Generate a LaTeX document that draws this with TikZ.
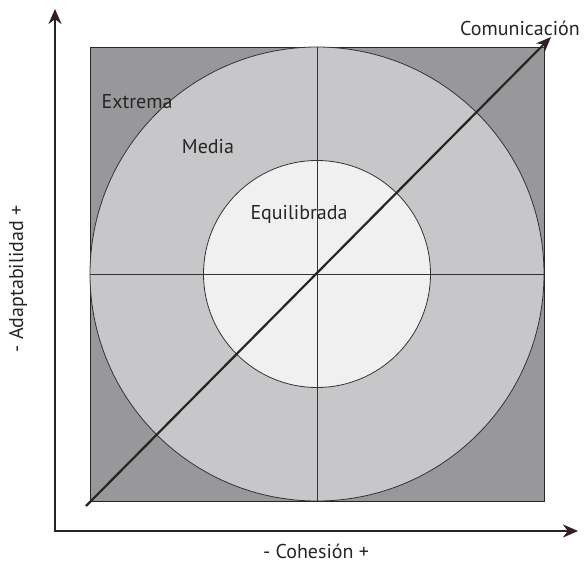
\documentclass[tikz,border=0pt]{standalone}
\usepackage{fontspec}
\setmainfont{PT Sans}
\usetikzlibrary{arrows.meta}
\definecolor{zoneout}{RGB}{152,152,155}
\definecolor{zonemid}{RGB}{199,199,201}
\definecolor{zonein}{RGB}{240,240,240}
\definecolor{tipcol}{RGB}{52,30,32}
\definecolor{linecol}{RGB}{38,36,36}
\tikzset{
  lbl/.style={font=\fontsize{20}{22}\selectfont, text=black!85, inner sep=0pt},
  axisline/.style={draw=linecol, line width=2.6pt,
    arrows={Stealth[length=15pt,width=13pt,color=tipcol]-Stealth[length=15pt,width=13pt,color=tipcol]}},
  diagline/.style={draw=linecol, line width=2.2pt,
    -{Stealth[length=15pt,width=12pt,color=tipcol]}},
  thinline/.style={draw=black!80, line width=0.8pt},
}
\begin{document}
\begin{tikzpicture}[x=1pt,y=-1pt]
  \useasboundingbox[fill=white] (0,0) rectangle (587,564);
  % outer square, rings
  \fill[zoneout] (90,47) rectangle (544,501);
  \draw[black!85, line width=0.8pt] (90,47) rectangle (544,501);
  \coordinate (c) at (317,274);
  \fill[zonemid] (c) circle (227);
  \draw[thinline] (c) circle (227);
  \fill[zonein] (c) circle (113.5);
  \draw[thinline] (c) circle (113.5);
  % quadrant dividers
  \coordinate (qt) at (317,47);
  \coordinate (qb) at (317,501);
  \coordinate (ql) at (90,274);
  \coordinate (qr) at (544,274);
  \draw[thinline] (qt) -- (qb);
  \draw[thinline] (ql) -- (qr);
  % communication diagonal
  \coordinate (d0) at (86,506);
  \coordinate (d1) at (551,37);
  \draw[diagline] (d0) -- (d1);
  % axes
  \coordinate (ytop) at (55,9);
  \coordinate (corner) at (55,531);
  \coordinate (xend) at (578,531);
  \draw[axisline] (ytop) -- (corner) -- (xend);
  % labels
  \node[lbl] (extrema) at (137,102) {Extrema};
  \node[lbl] (media) at (208,147) {Media};
  \node[lbl] (equil) at (299,214) {Equilibrada};
  \node[lbl] (comun) at (520,28) {Comunicación};
  \node[lbl] (cohesion) at (316,551) {- Cohesión +};
  \node[lbl, rotate=90] (adapt) at (18,279) {- Adaptabilidad +};
\end{tikzpicture}
\end{document}
